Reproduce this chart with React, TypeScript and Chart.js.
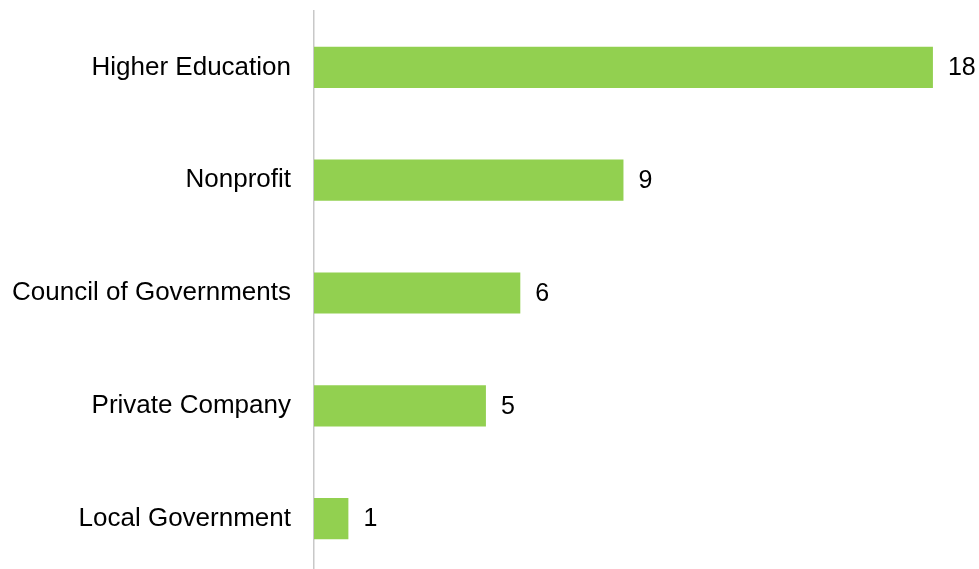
import React, { useEffect, useRef } from "react";
import { Chart, registerables } from "chart.js";

Chart.register(...registerables);

const categories = ["Higher Education", "Nonprofit", "Council of Governments", "Private Company", "Local Government"];
const counts = [18, 9, 6, 5, 1];

const valueLabels = {
  id: "valueLabels",
  afterDatasetsDraw(chart: any) {
    const ctx = chart.ctx;
    const meta = chart.getDatasetMeta(0);
    ctx.save();
    ctx.font = "25px 'Liberation Sans', Arial, sans-serif";
    ctx.fillStyle = "#000";
    ctx.textBaseline = "middle";
    ctx.textAlign = "left";
    meta.data.forEach((el: any, i: number) => {
      ctx.fillText(String(counts[i]), el.x + 15, el.y + 1);
    });
    ctx.restore();
  },
};

export default function App() {
  const ref = useRef<HTMLCanvasElement | null>(null);
  useEffect(() => {
    document.body.style.margin = "0";
    document.body.style.overflow = "hidden";
    const chart = new Chart(ref.current as HTMLCanvasElement, {
      type: "bar",
      data: {
        labels: categories,
        datasets: [
          {
            data: counts,
            backgroundColor: "#92D050",
            borderWidth: 0,
            barPercentage: 0.73,
            categoryPercentage: 0.5,
          },
        ],
      },
      options: {
        indexAxis: "y",
        animation: false,
        responsive: false,
        maintainAspectRatio: false,
        layout: { padding: { top: 11, right: 0, bottom: 0, left: 0 } },
        plugins: { legend: { display: false }, tooltip: { enabled: false } },
        scales: {
          x: { display: false, min: 0, max: 19.34 },
          y: {
            grid: { display: false, drawTicks: false },
            border: { display: true, color: "#c8c8c8", width: 1.5 },
            ticks: {
              color: "#000",
              padding: 23,
              font: { size: 26, family: "'Liberation Sans', Arial, sans-serif" },
            },
            afterFit: (scale: any) => {
              scale.width = 314;
              scale.paddingTop = 0;
              scale.paddingBottom = 0;
            },
          },
        },
      },
      plugins: [valueLabels],
    });
    return () => chart.destroy();
  }, []);
  return (
    <div style={{ position: "fixed", left: 0, top: 0, width: 979, height: 575 }}>
      <canvas ref={ref} width={979} height={575} style={{ width: 979, height: 575, display: "block" }} />
    </div>
  );
}
